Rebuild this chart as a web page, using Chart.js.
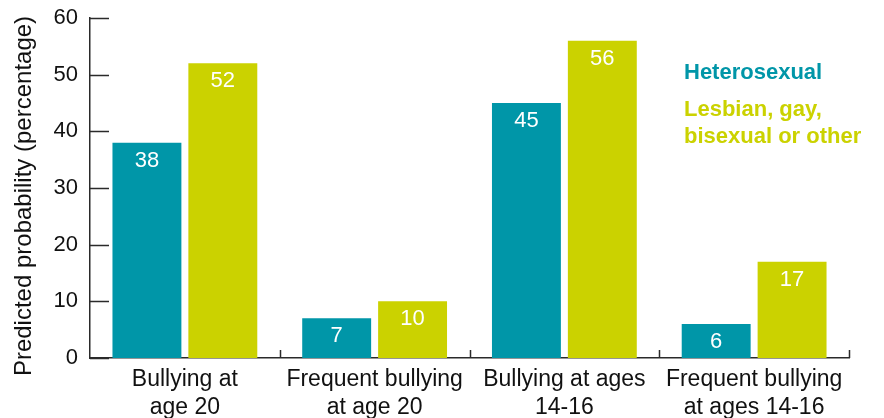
<!DOCTYPE html>
<html>
<head>
<meta charset="utf-8">
<script src="https://cdn.jsdelivr.net/npm/chart.js@4/dist/chart.umd.min.js"></script>
<style>
  html, body { margin: 0; padding: 0; background: #fff; }
  #wrap { width: 884px; height: 418px; }
</style>
</head>
<body>
<div id="wrap"><canvas id="myChart" width="884" height="418"></canvas></div>
<script>
// data
let categories = [
    ["Bullying at", "age 20"],
    ["Frequent bullying", "at age 20"],
    ["Bullying at ages", "14-16"],
    ["Frequent bullying", "at ages 14-16"]
];
let heteroValues = [38, 7, 45, 6];
let lgboValues = [52, 10, 56, 17];
let heteroLabel = ["Heterosexual"];
let lgboLabel = ["Lesbian, gay,", "bisexual or other"];
let yTicks = [0, 10, 20, 30, 40, 50, 60];
let yTitle = 'Predicted probability (percentage)';

let teal = '#0096a8';
let lime = '#cbd200';
let axisColor = '#2a2a2a';
let font = '"Liberation Sans", Arial, Helvetica, sans-serif';

// white value inside the top of each bar
let valueLabels = {
    id: 'valueLabels',
    afterDatasetsDraw(chart) {
        let ctx = chart.ctx;
        ctx.save();
        ctx.fillStyle = '#ffffff';
        ctx.font = '22px ' + font;
        ctx.textAlign = 'center';
        ctx.textBaseline = 'middle';
        chart.data.datasets.forEach((ds, d) => {
            chart.getDatasetMeta(d).data.forEach((bar, k) => {
                ctx.fillText(String(ds.data[k]), bar.x, bar.y + 18);
            });
        });
        ctx.restore();
    }
};

// short ticks: y ticks pointing into the plot, category separators pointing up
let axisTicks = {
    id: 'axisTicks',
    afterDraw(chart) {
        let ctx = chart.ctx;
        let x = chart.scales.x;
        let y = chart.scales.y;
        let area = chart.chartArea;
        ctx.save();
        ctx.strokeStyle = axisColor;
        ctx.lineWidth = 1.5;
        ctx.beginPath();
        yTicks.forEach(v => {
            let py = Math.round(y.getPixelForValue(v)) + 0.5;
            ctx.moveTo(area.left, py);
            ctx.lineTo(area.left + 19, py);
        });
        for (let k = 1; k <= categories.length; k++) {
            let px = Math.round(x.getPixelForValue(k - 0.5)) + 0.5;
            ctx.moveTo(px, area.bottom);
            ctx.lineTo(px, area.bottom - 8);
        }
        ctx.stroke();

        // rotated y axis title
        ctx.fillStyle = '#111';
        ctx.font = '24px ' + font;
        ctx.textAlign = 'center';
        ctx.textBaseline = 'middle';
        ctx.translate(24, 196);
        ctx.rotate(-Math.PI / 2);
        ctx.fillText(yTitle, 0, 0);
        ctx.restore();
    }
};

// coloured text legend at the right
let textLegend = {
    id: 'textLegend',
    afterDraw(chart) {
        let ctx = chart.ctx;
        ctx.save();
        ctx.font = 'bold 22px ' + font;
        ctx.textAlign = 'left';
        ctx.textBaseline = 'middle';
        ctx.fillStyle = teal;
        heteroLabel.forEach((t, k) => ctx.fillText(t, 684, 73 + k * 27));
        ctx.fillStyle = lime;
        lgboLabel.forEach((t, k) => ctx.fillText(t, 684, 110 + k * 27));
        ctx.restore();
    }
};

let config = {
    type: 'bar',
    data: {
        labels: categories,
        datasets: [{
            label: heteroLabel.join(' '),
            data: heteroValues,
            backgroundColor: teal,
            categoryPercentage: 0.8,
            barPercentage: 0.908
        }, {
            label: lgboLabel.join(' '),
            data: lgboValues,
            backgroundColor: lime,
            categoryPercentage: 0.8,
            barPercentage: 0.908
        }]
    },
    options: {
        responsive: false,
        animation: false,
        layout: {
            padding: { top: 18, right: 35, left: 0, bottom: 0 }
        },
        plugins: {
            legend: { display: false },
            tooltip: { enabled: false }
        },
        scales: {
            x: {
                grid: { display: false, drawTicks: false },
                border: { display: true, color: axisColor, width: 1.5 },
                ticks: {
                    color: '#111',
                    font: { family: font, size: 23, lineHeight: 1.22 },
                    padding: 8,
                    maxRotation: 0,
                    autoSkip: false
                },
                afterFit(scale) {
                    scale.height = 60;
                    scale.paddingLeft = 0;
                    scale.paddingRight = 0;
                }
            },
            y: {
                min: 0,
                max: 60,
                grid: { display: false, drawTicks: false },
                border: { display: true, color: axisColor, width: 1.5 },
                ticks: {
                    stepSize: 10,
                    color: '#111',
                    font: { family: font, size: 22 },
                    padding: 12
                },
                afterFit(scale) {
                    scale.width = 90;
                    scale.paddingTop = 0;
                    scale.paddingBottom = 0;
                }
            }
        }
    },
    plugins: [valueLabels, axisTicks, textLegend]
};

let myChart = new Chart(document.getElementById('myChart'), config);
</script>
</body>
</html>
